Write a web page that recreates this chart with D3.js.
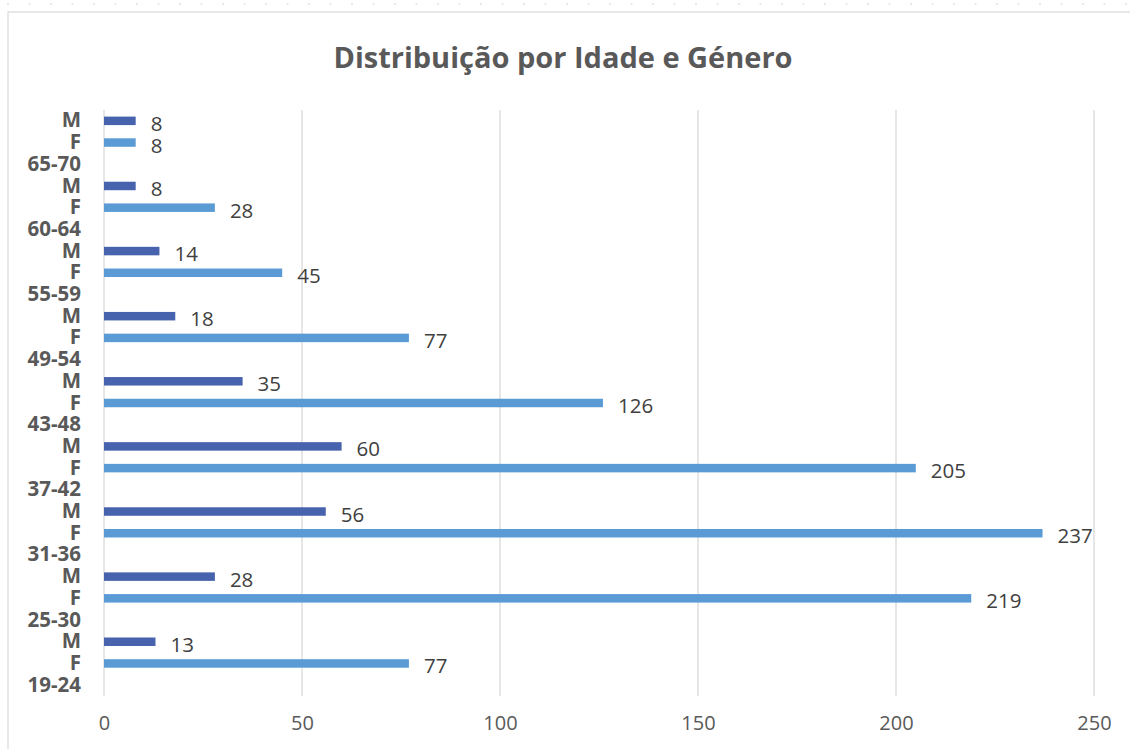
<!DOCTYPE html>
<html>
<head>
<meta charset="utf-8">
<script src="https://cdn.jsdelivr.net/npm/d3@7"></script>
<style>
  body { margin: 0; background: #fff; }
  svg text { font-family: "Open Sans", "Noto Sans", sans-serif; }
</style>
</head>
<body>
<div id="chart"></div>
<script>
const ageGroups = ["19-24", "25-30", "31-36", "37-42", "43-48", "49-54", "55-59", "60-64", "65-70"];
const femaleValues = [77, 219, 237, 205, 126, 77, 45, 28, 8];
const maleValues = [13, 28, 56, 60, 35, 18, 14, 8, 8];
const xTicks = [0, 50, 100, 150, 200, 250];

const canvasWidth = 1130;
const canvasHeight = 749;
const plot = { left: 104, right: 1094, top: 110, bottom: 696 };
const colors = { F: "#5b9bd5", M: "#4863ad", grid: "#d9d9d9", text: "#595959", label: "#404040" };

// rows from bottom to top: age label, F, M for each group
const rows = [];
ageGroups.forEach((age, i) => {
    rows.push({ key: age + "-label", label: age, value: null });
    rows.push({ key: age + "-F", label: "F", value: femaleValues[i], sex: "F" });
    rows.push({ key: age + "-M", label: "M", value: maleValues[i], sex: "M" });
});

const svg = d3.select("#chart")
    .append("svg")
    .attr("width", canvasWidth)
    .attr("height", canvasHeight);

// dotted strip along the top
svg.append("line")
    .attr("x1", 7).attr("x2", canvasWidth)
    .attr("y1", 4).attr("y2", 4)
    .attr("stroke", "#e3e9f1")
    .attr("stroke-width", 2)
    .attr("stroke-dasharray", "2 19.5");

// chart frame
svg.append("rect")
    .attr("x", 8).attr("y", 12)
    .attr("width", canvasWidth + 20).attr("height", canvasHeight + 20)
    .attr("fill", "none")
    .attr("stroke", colors.grid)
    .attr("stroke-width", 1.2);

svg.append("text")
    .attr("x", 563).attr("y", 56)
    .attr("text-anchor", "middle")
    .attr("dominant-baseline", "central")
    .attr("font-size", 29)
    .attr("font-weight", "bold")
    .attr("fill", colors.text)
    .text("Distribuição por Idade e Género");

const xScale = d3.scaleLinear().domain([0, 250]).range([plot.left, plot.right]);
const yScale = d3.scaleBand()
    .domain(rows.map(d => d.key))
    .range([plot.bottom, plot.top]);

// gridlines
svg.append("g")
    .selectAll("line")
    .data(xTicks)
    .join("line")
    .attr("x1", d => xScale(d)).attr("x2", d => xScale(d))
    .attr("y1", plot.top).attr("y2", plot.bottom)
    .attr("stroke", colors.grid)
    .attr("stroke-width", 1.3);

// x axis labels
const xAxis = d3.axisBottom(xScale).tickValues(xTicks).tickSize(0).tickPadding(0);
svg.append("g")
    .attr("transform", `translate(0,${plot.bottom + 20})`)
    .call(xAxis)
    .call(g => g.select(".domain").remove())
    .selectAll("text")
    .attr("font-size", 20)
    .attr("fill", colors.text)
    .attr("font-family", "'Open Sans', sans-serif");

// y axis labels
const yAxis = d3.axisLeft(yScale).tickSize(0).tickPadding(0)
    .tickFormat(k => rows.find(r => r.key === k).label);
svg.append("g")
    .attr("transform", `translate(${plot.left - 23},0)`)
    .call(yAxis)
    .call(g => g.select(".domain").remove())
    .selectAll("text")
    .attr("font-size", 20.5)
    .attr("font-weight", "bold")
    .attr("fill", colors.text)
    .attr("font-family", "'Open Sans', sans-serif");

const barRows = rows.filter(d => d.value !== null);
const barHeight = 8.5;

svg.append("g")
    .selectAll("rect")
    .data(barRows)
    .join("rect")
    .attr("x", xScale(0))
    .attr("y", d => yScale(d.key) + yScale.bandwidth() / 2 - barHeight / 2)
    .attr("width", d => xScale(d.value) - xScale(0))
    .attr("height", barHeight)
    .attr("fill", d => colors[d.sex]);

svg.append("g")
    .selectAll("text")
    .data(barRows)
    .join("text")
    .attr("x", d => xScale(d.value) + 15)
    .attr("y", d => yScale(d.key) + yScale.bandwidth() / 2 + 2)
    .attr("dominant-baseline", "central")
    .attr("font-size", 20.5)
    .attr("fill", colors.label)
    .text(d => d.value);
</script>
</body>
</html>
